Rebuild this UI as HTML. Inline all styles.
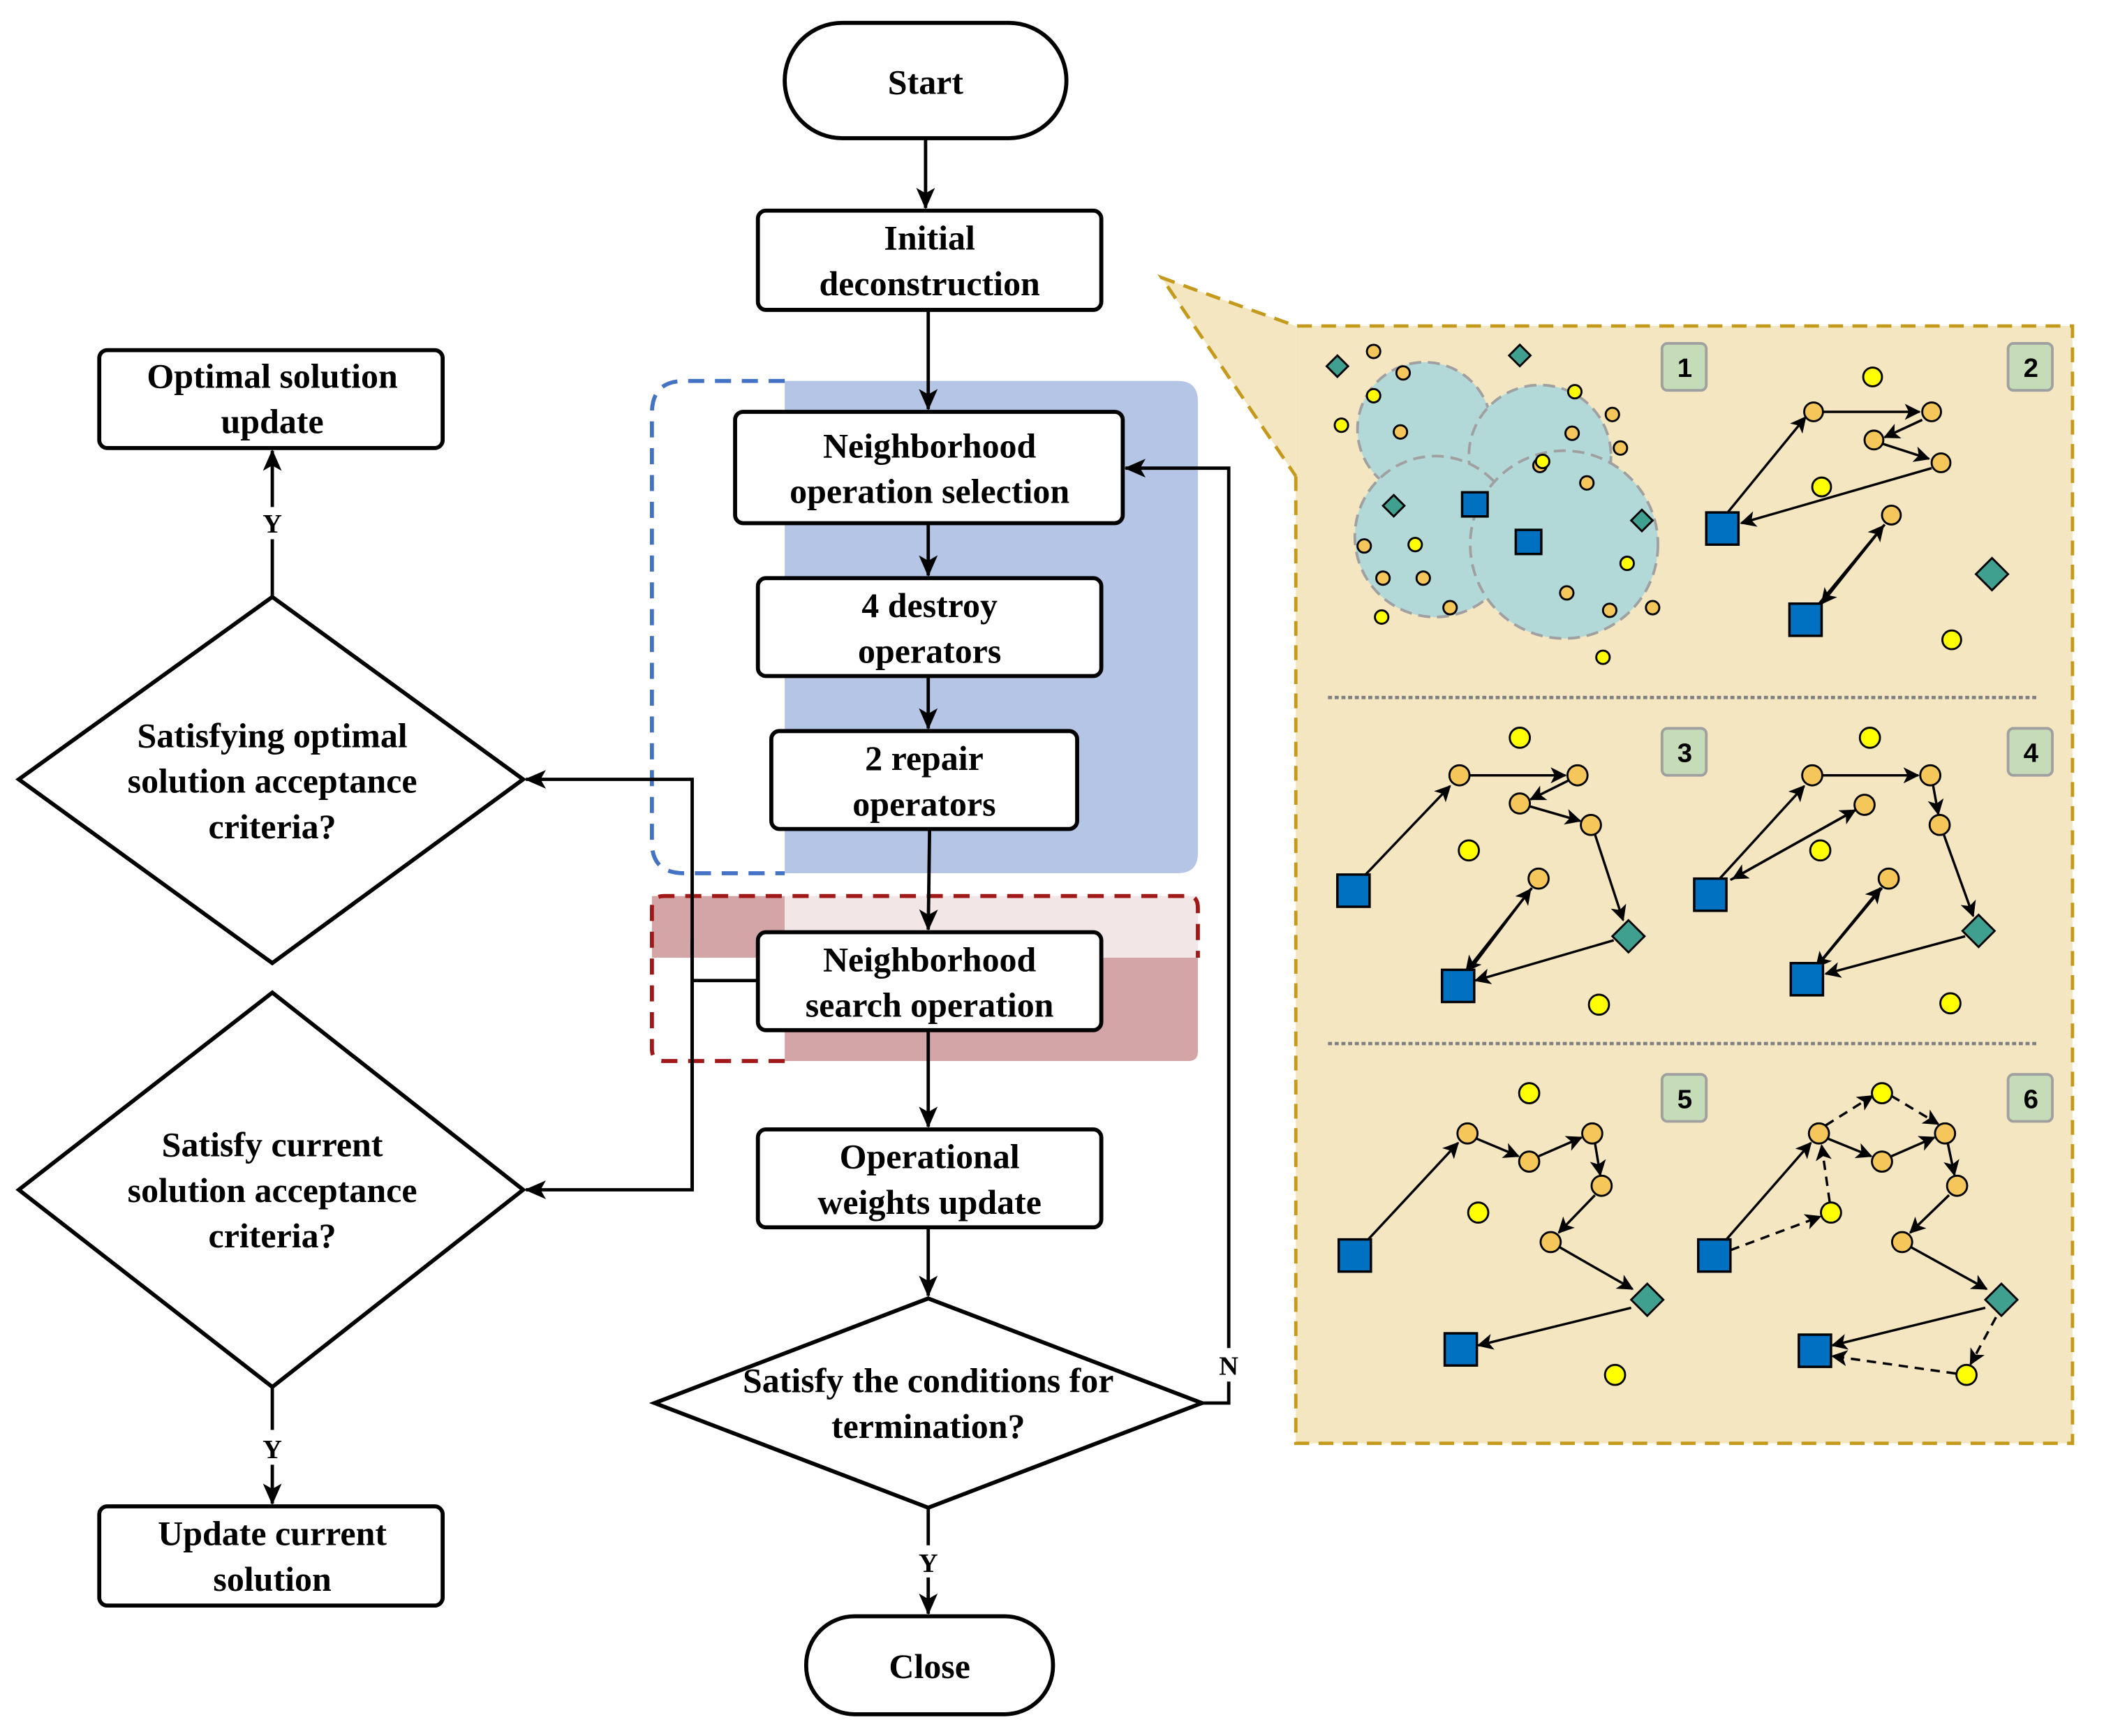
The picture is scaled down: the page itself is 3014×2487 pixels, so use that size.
<!DOCTYPE html>
<html><head><meta charset="utf-8">
<style>html,body{margin:0;padding:0;background:#fff}svg{display:block}</style>
</head><body>
<svg xmlns="http://www.w3.org/2000/svg" width="3014" height="2487" viewBox="0 0 1568.5 1294.2">
<defs>
<marker id="ah" markerWidth="12" markerHeight="12" refX="11" refY="6" orient="auto" markerUnits="userSpaceOnUse" viewBox="0 0 12 12">
<path d="M0,0 L12,6 L0,12 L3,6 z" fill="#000"/></marker>
<marker id="as" markerWidth="16" markerHeight="14" refX="15" refY="7" orient="auto" markerUnits="userSpaceOnUse" viewBox="0 0 16 14">
<path d="M0,0 L16,7 L0,14 L4,7 z" fill="#000"/></marker>
</defs>
<style>
.t{font-family:"Liberation Serif",serif;font-weight:bold;font-size:26px;text-anchor:middle;fill:#000}
.b{fill:#fff;stroke:#000;stroke-width:3}
.l{stroke:#000;stroke-width:2.5;fill:none}
.a{stroke:#000;stroke-width:1.8;fill:none;marker-end:url(#ah)}
.ad{stroke:#000;stroke-width:1.8;fill:none;marker-end:url(#ah);stroke-dasharray:7 5}
.o{fill:#f5c75a;stroke:#000;stroke-width:1.5}
.y{fill:#ffff00;stroke:#000;stroke-width:1.5}
.sq{fill:#0070c0;stroke:#000;stroke-width:1.8}
.dm{fill:#40a090;stroke:#000;stroke-width:1.5}
.bd{fill:#c6dcb8;stroke:#a0a0a0;stroke-width:2}
.bn{font-family:"Liberation Sans",sans-serif;font-weight:bold;font-size:20px;text-anchor:middle}
</style>

<path d="M585,284 H878 Q893,284 893,299 V636 Q893,651 878,651 H585 Z" fill="#b4c5e6"/>
<path d="M585,284 H510 Q486,284 486,308 V628 Q486,651 510,651 H585" fill="none" stroke="#4472c4" stroke-width="3" stroke-dasharray="12 8"/>
<rect x="486" y="668" width="99" height="46" fill="#d4a5a7"/>
<rect x="585" y="668" width="308" height="46" fill="#f3e6e6"/>
<path d="M585,714 H893 V784 Q893,791 886,791 H585 Z" fill="#d4a5a7"/>
<path d="M585,791 H495 Q486,791 486,782 V677 Q486,668 495,668 H886 Q893,668 893,677 V714" fill="none" stroke="#a01818" stroke-width="3" stroke-dasharray="12 8"/>

<line class="l" x1="690" y1="103" x2="690" y2="155" marker-end="url(#as)"/>
<line class="l" x1="692" y1="231" x2="692" y2="305" marker-end="url(#as)"/>
<line class="l" x1="692" y1="390" x2="692" y2="429" marker-end="url(#as)"/>
<line class="l" x1="692" y1="504" x2="692" y2="543" marker-end="url(#as)"/>
<line class="l" x1="693" y1="618" x2="692" y2="693" marker-end="url(#as)"/>
<line class="l" x1="692" y1="768" x2="692" y2="840" marker-end="url(#as)"/>
<line class="l" x1="692" y1="915" x2="692" y2="966" marker-end="url(#as)"/>
<line class="l" x1="692" y1="1124" x2="692" y2="1152"/>
<line class="l" x1="692" y1="1176" x2="692" y2="1203" marker-end="url(#as)"/>
<text class="t" x="692" y="1172" style="font-size:20px">Y</text>
<polyline class="l" points="896,1046 916,1046 916,1030"/>
<polyline class="l" points="916,1005 916,349 839,349" marker-end="url(#as)"/>
<text class="t" x="916" y="1025" style="font-size:20px">N</text>
<polyline class="l" points="565,731 516,731"/>
<polyline class="l" points="516,887 516,581 392,581" marker-end="url(#as)"/>
<polyline class="l" points="516,700 516,887 392,887" marker-end="url(#as)"/>
<line class="l" x1="203" y1="445" x2="203" y2="402"/>
<line class="l" x1="203" y1="378" x2="203" y2="336" marker-end="url(#as)"/>
<text class="t" x="203" y="397" style="font-size:20px">Y</text>
<line class="l" x1="203" y1="1034" x2="203" y2="1066"/>
<line class="l" x1="203" y1="1092" x2="203" y2="1121" marker-end="url(#as)"/>
<text class="t" x="203" y="1087" style="font-size:20px">Y</text>

<rect class="b" x="585" y="17" width="210" height="86" rx="43"/>
<text class="t" x="690" y="70">Start</text>
<rect class="b" x="565" y="157" width="256" height="74" rx="6"/>
<text class="t" x="693" y="186">Initial</text><text class="t" x="693" y="220">deconstruction</text>
<rect class="b" x="74" y="261" width="256" height="73" rx="6"/>
<text class="t" x="203" y="289">Optimal solution</text><text class="t" x="203" y="323">update</text>
<rect class="b" x="548" y="307" width="289" height="83" rx="6"/>
<text class="t" x="693" y="341">Neighborhood</text><text class="t" x="693" y="375">operation selection</text>
<rect class="b" x="565" y="431" width="256" height="73" rx="6"/>
<text class="t" x="693" y="460">4 destroy</text><text class="t" x="693" y="494">operators</text>
<rect class="b" x="575" y="545" width="228" height="73" rx="6"/>
<text class="t" x="689" y="574">2 repair</text><text class="t" x="689" y="608">operators</text>
<rect class="b" x="565" y="695" width="256" height="73" rx="6"/>
<text class="t" x="693" y="724">Neighborhood</text><text class="t" x="693" y="758">search operation</text>
<rect class="b" x="565" y="842" width="256" height="73" rx="6"/>
<text class="t" x="693" y="871">Operational</text><text class="t" x="693" y="905">weights update</text>
<polygon class="b" points="692,968 896,1046 692,1124 488,1046"/>
<text class="t" x="692" y="1038">Satisfy the conditions for</text><text class="t" x="692" y="1072">termination?</text>
<rect class="b" x="601" y="1205" width="184" height="73" rx="36"/>
<text class="t" x="693" y="1251">Close</text>
<polygon class="b" points="203,445 390,581 203,718 14,581"/>
<text class="t" x="203" y="557">Satisfying optimal</text><text class="t" x="203" y="591">solution acceptance</text><text class="t" x="203" y="625">criteria?</text>
<polygon class="b" points="203,740 390,887 203,1034 14,887"/>
<text class="t" x="203" y="862">Satisfy current</text><text class="t" x="203" y="896">solution acceptance</text><text class="t" x="203" y="930">criteria?</text>
<rect class="b" x="74" y="1123" width="256" height="74" rx="6"/>
<text class="t" x="203" y="1152">Update current</text><text class="t" x="203" y="1186">solution</text>

<polygon points="866,207 966,243 966,355" fill="#f3e6c0"/>
<rect x="966" y="243" width="579" height="833" fill="#f3e6c0"/>
<polyline points="966,355 966,1076 1545,1076 1545,243 966,243 866,207 966,355" fill="none" stroke="#c49a1c" stroke-width="2.5" stroke-dasharray="11 7"/>
<line x1="990" y1="520" x2="1518" y2="520" stroke="#808080" stroke-width="2.5" stroke-dasharray="3 2"/>
<line x1="990" y1="778" x2="1518" y2="778" stroke="#808080" stroke-width="2.5" stroke-dasharray="3 2"/>
<g>
<rect class="bd" x="1239" y="256" width="33" height="35" rx="4"/><text class="bn" x="1256" y="281">1</text>
<rect class="bd" x="1497" y="256" width="33" height="35" rx="4"/><text class="bn" x="1514" y="281">2</text>
<rect class="bd" x="1239" y="543" width="33" height="35" rx="4"/><text class="bn" x="1256" y="568">3</text>
<rect class="bd" x="1497" y="543" width="33" height="35" rx="4"/><text class="bn" x="1514" y="568">4</text>
<rect class="bd" x="1239" y="801" width="33" height="35" rx="4"/><text class="bn" x="1256" y="826">5</text>
<rect class="bd" x="1497" y="801" width="33" height="35" rx="4"/><text class="bn" x="1514" y="826">6</text>
</g>
<g fill="#b2d8d8" stroke="#a0a0a0" stroke-width="2" stroke-dasharray="9 5">
<circle cx="1062" cy="320" r="50"/><circle cx="1148" cy="340" r="53"/><circle cx="1070" cy="400" r="60"/><circle cx="1166" cy="406" r="70"/>
</g>
<g>
<circle class="o" cx="1024" cy="262" r="5"/><circle class="o" cx="1046" cy="278" r="5"/><circle class="y" cx="1024" cy="295" r="5"/><circle class="y" cx="1000" cy="317" r="5"/>
<circle class="o" cx="1044" cy="322" r="5"/><circle class="y" cx="1174" cy="292" r="5"/><circle class="o" cx="1148" cy="347" r="5"/><circle class="o" cx="1202" cy="309" r="5"/>
<circle class="o" cx="1172" cy="323" r="5"/><circle class="o" cx="1208" cy="334" r="5"/><circle class="y" cx="1150" cy="344" r="5"/><circle class="o" cx="1183" cy="360" r="5"/>
<circle class="o" cx="1017" cy="407" r="5"/><circle class="y" cx="1055" cy="406" r="5"/><circle class="y" cx="1213" cy="420" r="5"/><circle class="o" cx="1031" cy="431" r="5"/>
<circle class="o" cx="1061" cy="431" r="5"/><circle class="o" cx="1168" cy="442" r="5"/><circle class="o" cx="1081" cy="453" r="5"/><circle class="y" cx="1030" cy="460" r="5"/>
<circle class="o" cx="1200" cy="455" r="5"/><circle class="o" cx="1232" cy="453" r="5"/><circle class="y" cx="1195" cy="490" r="5"/>
<rect class="sq" x="1090" y="367" width="19" height="18"/><rect class="sq" x="1130" y="395" width="19" height="18"/>
<polygon class="dm" points="997,265 1005,273 997,281 989,273"/><polygon class="dm" points="1133,257 1141,265 1133,273 1125,265"/>
<polygon class="dm" points="1039,369 1047,377 1039,385 1031,377"/><polygon class="dm" points="1224,380 1232,388 1224,396 1216,388"/>
</g>
<g>
<path class="a" d="M1288,382 L1346,311"/><path class="a" d="M1359,307 L1431,307"/><path class="a" d="M1433,313 L1405,326"/>
<path class="a" d="M1404,331 L1438,342"/><path class="a" d="M1440,349 L1298,390"/>
<path class="a" d="M1405,391 L1358,450"/><path class="a" d="M1352,455 L1404,392"/>
<circle class="y" cx="1396" cy="281" r="7"/><circle class="y" cx="1358" cy="363" r="7"/><circle class="y" cx="1455" cy="477" r="7"/>
<circle class="o" cx="1352" cy="307" r="7"/><circle class="o" cx="1440" cy="307" r="7"/><circle class="o" cx="1397" cy="328" r="7"/><circle class="o" cx="1447" cy="345" r="7"/><circle class="o" cx="1410" cy="384" r="7"/>
<rect class="sq" x="1272" y="382" width="24" height="24"/><rect class="sq" x="1334" y="450" width="24" height="24"/>
<polygon class="dm" points="1485,416 1497,428 1485,440 1473,428"/>
</g>
<g>
<path class="a" d="M1018,652 L1081,586"/><path class="a" d="M1096,578 L1167,578"/><path class="a" d="M1169,582 L1141,596"/>
<path class="a" d="M1140,601 L1178,612"/><path class="a" d="M1189,622 L1210,686"/><path class="a" d="M1203,701 L1100,731"/>
<path class="a" d="M1142,662 L1093,724"/><path class="a" d="M1092,728 L1141,663"/>
<circle class="y" cx="1133" cy="550" r="7.5"/><circle class="y" cx="1095" cy="634" r="7.5"/><circle class="y" cx="1192" cy="749" r="7.5"/>
<circle class="o" cx="1088" cy="578" r="7.5"/><circle class="o" cx="1176" cy="578" r="7.5"/><circle class="o" cx="1133" cy="599" r="7.5"/><circle class="o" cx="1186" cy="615" r="7.5"/><circle class="o" cx="1147" cy="655" r="7.5"/>
<rect class="sq" x="997" y="652" width="24" height="24"/><rect class="sq" x="1075" y="723" width="24" height="24"/>
<polygon class="dm" points="1214,686 1226,698 1214,710 1202,698"/>
</g>
<g>
<path class="a" d="M1282,655 L1345,586"/><path class="a" d="M1359,578 L1430,578"/><path class="a" d="M1441,585 L1445,607"/>
<path class="a" d="M1449,622 L1471,683"/><path class="a" d="M1465,698 L1361,726"/>
<path class="a" d="M1383,604 L1292,655"/><path class="a" d="M1290,656 L1383,604"/>
<path class="a" d="M1403,662 L1354,721"/><path class="a" d="M1352,723 L1402,662"/>
<circle class="y" cx="1394" cy="550" r="7.5"/><circle class="y" cx="1357" cy="634" r="7.5"/><circle class="y" cx="1454" cy="748" r="7.5"/>
<circle class="o" cx="1351" cy="578" r="7.5"/><circle class="o" cx="1439" cy="578" r="7.5"/><circle class="o" cx="1390" cy="600" r="7.5"/><circle class="o" cx="1446" cy="615" r="7.5"/><circle class="o" cx="1408" cy="655" r="7.5"/>
<rect class="sq" x="1263" y="655" width="24" height="24"/><rect class="sq" x="1335" y="718" width="24" height="24"/>
<polygon class="dm" points="1475,682 1487,694 1475,706 1463,694"/>
</g>
<g>
<path class="a" d="M1020,924 L1087,852"/><path class="a" d="M1101,849 L1132,862"/><path class="a" d="M1147,862 L1179,848"/>
<path class="a" d="M1189,852 L1193,876"/><path class="a" d="M1189,891 L1162,919"/><path class="a" d="M1163,930 L1217,961"/>
<path class="a" d="M1216,975 L1102,1003"/>
<circle class="y" cx="1140" cy="815" r="7.5"/><circle class="y" cx="1102" cy="904" r="7.5"/><circle class="y" cx="1204" cy="1025" r="7.5"/>
<circle class="o" cx="1094" cy="845" r="7.5"/><circle class="o" cx="1140" cy="866" r="7.5"/><circle class="o" cx="1187" cy="845" r="7.5"/><circle class="o" cx="1194" cy="884" r="7.5"/><circle class="o" cx="1156" cy="926" r="7.5"/>
<rect class="sq" x="998" y="924" width="24" height="24"/><rect class="sq" x="1077" y="994" width="24" height="24"/>
<polygon class="dm" points="1228,957 1240,969 1228,981 1216,969"/>
</g>
<g>
<path class="a" d="M1287,924 L1350,852"/><path class="a" d="M1363,849 L1395,862"/><path class="a" d="M1410,862 L1442,848"/>
<path class="a" d="M1452,852 L1457,876"/><path class="a" d="M1453,891 L1424,919"/><path class="a" d="M1425,930 L1481,961"/>
<path class="a" d="M1480,975 L1366,1003"/>
<path class="ad" d="M1290,932 L1357,907"/><path class="ad" d="M1364,896 L1358,854"/><path class="ad" d="M1361,839 L1396,817"/>
<path class="ad" d="M1410,817 L1445,838"/><path class="ad" d="M1488,982 L1469,1017"/><path class="ad" d="M1458,1024 L1366,1011"/>
<circle class="y" cx="1403" cy="815" r="7.5"/><circle class="y" cx="1365" cy="904" r="7.5"/><circle class="y" cx="1466" cy="1025" r="7.5"/>
<circle class="o" cx="1356" cy="845" r="7.5"/><circle class="o" cx="1403" cy="866" r="7.5"/><circle class="o" cx="1450" cy="845" r="7.5"/><circle class="o" cx="1459" cy="884" r="7.5"/><circle class="o" cx="1418" cy="926" r="7.5"/>
<rect class="sq" x="1266" y="924" width="24" height="24"/><rect class="sq" x="1341" y="995" width="24" height="24"/>
<polygon class="dm" points="1492,957 1504,969 1492,981 1480,969"/>
</g>
</svg>
</body></html>
